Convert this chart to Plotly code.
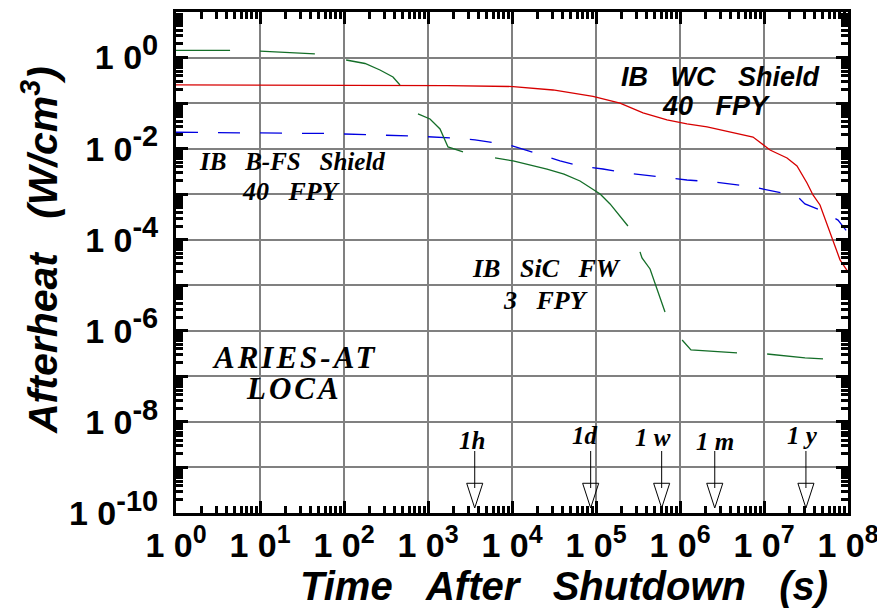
import math
import plotly.graph_objects as go

# ---------------- data (time after shutdown [s], afterheat [W/cm^3]) ----------------
red_t = [1, 1.7e3, 1.03e4, 3.08e4, 9.2e4, 1.93e5, 3.63e5, 7.0e5, 1.21e6, 2.1e6, 7.4e6,
         1.18e7, 1.88e7, 2.47e7, 3.25e7, 3.83e7, 4.64e7, 6.63e7, 8.04e7, 1e8]
red_q = [0.25, 0.243, 0.231, 0.194, 0.140, 0.100, 0.0607, 0.0426, 0.0348, 0.0299, 0.0180,
         0.00933, 0.00624, 0.00416, 0.00176, 9.6e-4, 5.8e-4, 9.9e-5, 3.6e-5, 1.96e-5]

blue_t = [1, 62.8, 611, 2.1e3, 3.63e3, 6.6e3, 1.03e4, 2.04e4, 3.73e4, 6.45e4, 1.21e5,
          2.34e5, 5.47e5, 1.21e6, 2.61e6, 7.4e6, 1.28e7, 2.47e7, 3.07e7, 4.4e7, 7.6e7, 9.5e7]
blue_q = [0.0229, 0.0215, 0.0190, 0.0171, 0.0155, 0.0133, 0.0114, 0.00763, 0.00536, 0.00416,
          0.00357, 0.00292, 0.00239, 0.00205, 0.00185, 0.00144, 0.00117, 9.1e-4, 6.1e-4,
          4.7e-4, 2.7e-4, 1.6e-4]

green_t = [1, 4.4, None,
           10, 17.3, 45, None,
           106, 178, 268, 383, 464, None,
           760, 1056, 1390, 1730, 2610, None,
           6280, 1.03e4, 2.61e4, 4.16e4, 6.45e4, 1.12e5, 1.47e5, 2.40e5, None,
           3.34e5, 3.53e5, 4.40e5, 6.63e5, None,
           1.06e6, 1.35e6, 4.77e6, None,
           1.09e7, 3.08e7, 5.04e7]
green_q = [1.44, 1.43, None,
           1.39, 1.32, 1.20, None,
           0.883, 0.740, 0.533, 0.374, 0.249, None,
           0.0577, 0.0448, 0.0270, 0.01087, 0.00844, None,
           0.00624, 0.00536, 0.00357, 0.00277, 0.00195, 0.00101, 6.1e-4, 2.0e-4, None,
           5.4e-5, 3.97e-5, 2.28e-5, 2.59e-6, None,
           6.3e-7, 3.8e-7, 3.27e-7, None,
           3.10e-7, 2.54e-7, 2.41e-7]

arrow_labels = ["1h", "1d", "1\u00a0w", "1\u00a0m", "1\u00a0y"]
arrow_times = [3600, 86400, 604800, 2.592e6, 3.156e7]

x_decades = list(range(0, 9))
y_decades = list(range(-10, 2))

# ---------------- style ----------------
W, H = 877, 612
ML, MR, MT, MB = 176, 29, 12, 99
PW, PH = W - ML - MR, H - MT - MB
SANS = "Liberation Sans, Arial, Helvetica, sans-serif"
SERIF = "Liberation Serif, Times New Roman, serif"
NB = "\u00a0"
SP3 = NB * 3


def paper(px, py):
    return (px - ML) / PW, (H - MB - py) / PH


def ylog_at(py):
    # log10 value of the y axis at pixel row py
    return 1 - (py - MT) / PH * 11


fig = go.Figure()

fig.add_trace(go.Scatter(x=red_t, y=red_q, mode="lines",
                         line=dict(color="rgb(215,0,0)", width=1.3), showlegend=False))
fig.add_trace(go.Scatter(x=blue_t, y=blue_q, mode="lines",
                         line=dict(color="rgb(0,0,225)", width=1.3, dash="22px,20px"),
                         showlegend=False))
fig.add_trace(go.Scatter(x=green_t, y=green_q, mode="lines", connectgaps=False,
                         line=dict(color="rgb(20,110,40)", width=1.3), showlegend=False))

# arrows marking 1 hour / day / week / month / year
y_top = 10 ** ylog_at(451)
y_notch = 10 ** ylog_at(488)
y_tip = 10 ** ylog_at(508)
for t in arrow_times:
    fig.add_trace(go.Scatter(x=[t, t], y=[y_top, y_notch], mode="lines",
                             line=dict(color="black", width=1), showlegend=False))
fig.add_trace(go.Scatter(x=arrow_times, y=[y_tip] * len(arrow_times), mode="markers",
                         marker=dict(symbol="arrow-open", angle=180, size=26, color="black",
                                     line=dict(color="black", width=1)),
                         showlegend=False))

annotations = []


def text(px, py, s, size, family, xanchor="center"):
    x, y = paper(px, py)
    annotations.append(dict(x=x, y=y, xref="paper", yref="paper", text=s, showarrow=False,
                            xanchor=xanchor, yanchor="middle",
                            font=dict(size=size, family=family, color="black")))


def spaced(s, px):
    return "<span style='letter-spacing:%dpx'>%s</span>" % (px, s)


label_pos = [(472, 440), (585, 435), (653, 437), (715, 441), (802, 436)]
for lab, (px, py) in zip(arrow_labels, label_pos):
    text(px, py, "<b><i>" + lab + "</i></b>", 25, SERIF)

text(720, 77, "<b><i>IB" + SP3 + "WC" + SP3 + "Shield</i></b>", 27, SANS)
text(716, 106, "<b><i>40" + SP3 + "FPY</i></b>", 27, SANS)
text(292, 161, "<b><i>IB" + SP3 + "B-FS" + SP3 + "Shield</i></b>", 25, SERIF)
text(291, 192, "<b><i>40" + SP3 + "FPY</i></b>", 26, SERIF)
text(546, 268, "<b><i>IB" + SP3 + "SiC" + SP3 + "FW</i></b>", 26, SERIF)
text(545, 300, "<b><i>3" + SP3 + "FPY</i></b>", 26, SERIF)
text(295, 357, "<b><i>" + spaced("ARIES-AT", 3) + "</i></b>", 31, SERIF)
text(294, 388, "<b><i>" + spaced("LOCA", 3) + "</i></b>", 31, SERIF)

# axis titles
xt, yt = paper(564, 586)
annotations.append(dict(x=xt, y=yt, xref="paper", yref="paper", showarrow=False,
                        text="<b><i>Time" + SP3 + "After" + SP3 + "Shutdown" + SP3 + "(s)</i></b>",
                        font=dict(size=40, family=SANS, color="black"),
                        xanchor="center", yanchor="middle"))
yx, yy = paper(40, 436)
annotations.append(dict(x=yx, y=yy, xref="paper", yref="paper", showarrow=False, textangle=-90,
                        text="<b><i>Afterheat" + SP3 + "(W/cm<sup>3</sup>)</i></b>",
                        font=dict(size=41, family=SANS, color="black"),
                        xanchor="center", yanchor="bottom"))


def sup_label(k, base=28):
    return "1" + NB + "0<sup><span style='font-size:%dpx'>%d</span></sup>" % (base, k)


x_ticktext = [sup_label(k, 25) for k in x_decades]
y_ticktext = [sup_label(k, 29) if (k % 2 == 0) else "" for k in y_decades]

axis_common = dict(showline=True, linecolor="black", linewidth=3, mirror="allticks",
                   ticks="inside", ticklen=12, tickwidth=3, tickcolor="black",
                   showgrid=True, gridcolor="rgb(128,128,128)", gridwidth=1.5,
                   ticklabeloverflow="allow", automargin=False,
                   minor=dict(ticks="inside", ticklen=7, tickwidth=2.5, tickcolor="black",
                              dtick="D1", showgrid=False))

fig.update_xaxes(type="log", range=[0, 8], tickmode="array",
                 tickvals=[10 ** k for k in x_decades], ticktext=x_ticktext,
                 tickfont=dict(family=SANS, size=34, color="black", weight="bold"),
                 ticklabelstandoff=0, **axis_common)
fig.update_yaxes(type="log", range=[-10, 1], tickmode="array",
                 tickvals=[10.0 ** k for k in y_decades], ticktext=y_ticktext,
                 tickfont=dict(family=SANS, size=34, color="black", weight="bold"),
                 ticklabelstandoff=8, **axis_common)

fig.update_layout(width=W, height=H, margin=dict(l=ML, r=MR, t=MT, b=MB, autoexpand=False),
                  paper_bgcolor="white", plot_bgcolor="white",
                  annotations=annotations, showlegend=False)

fig.write_html("out.html")
